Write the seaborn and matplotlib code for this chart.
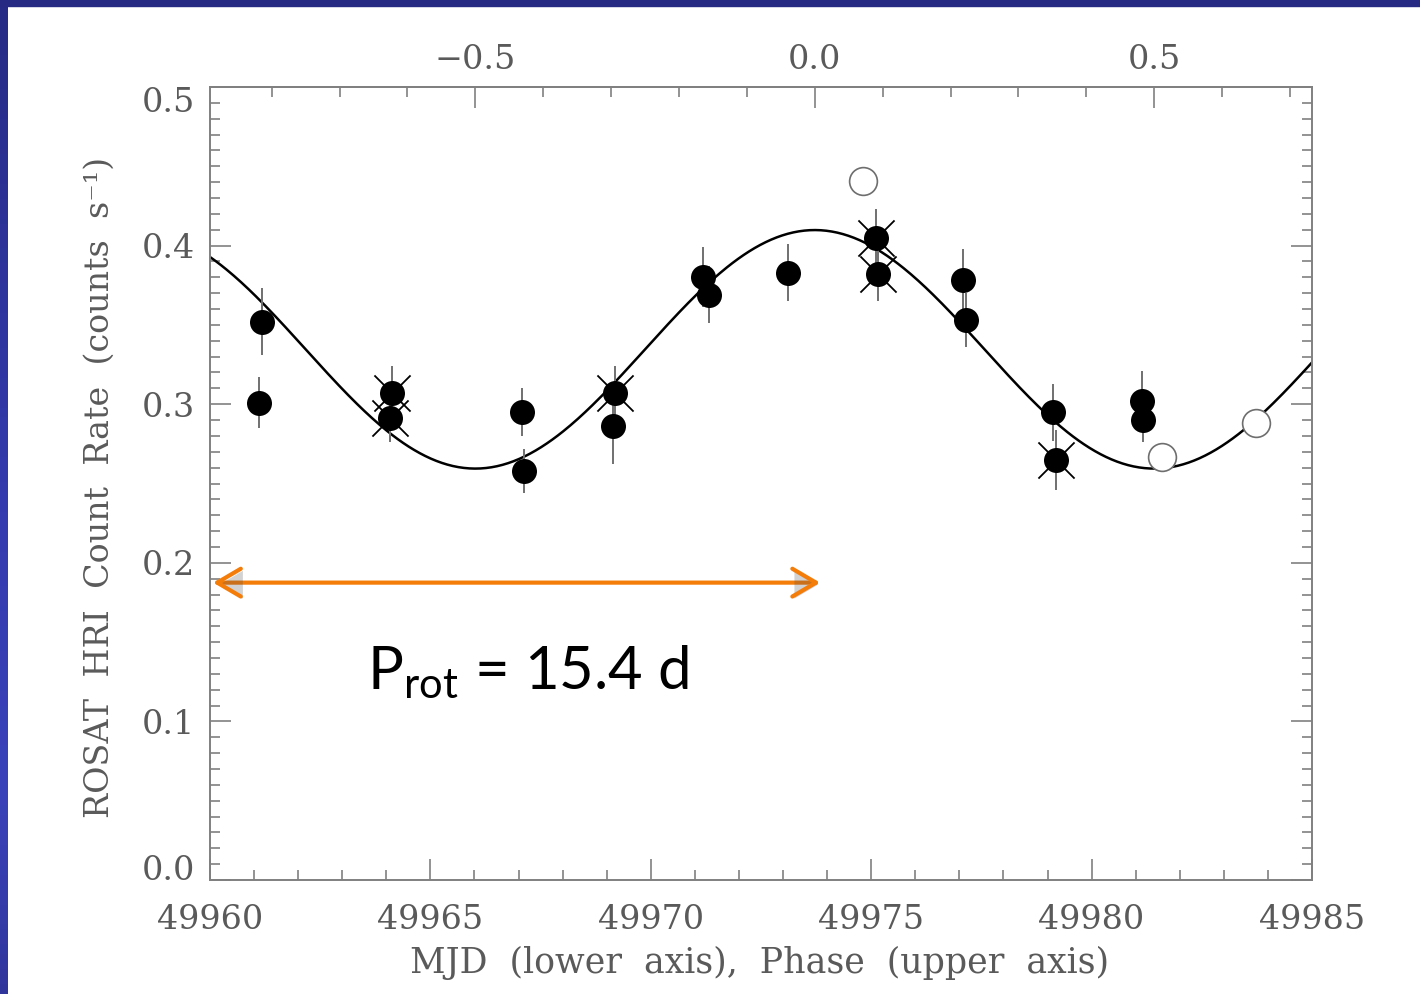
import numpy as np
import pandas as pd
import matplotlib
matplotlib.use("Agg")
import matplotlib.pyplot as plt
from matplotlib.patches import Rectangle
from matplotlib.ticker import MultipleLocator, FixedLocator
import matplotlib.transforms as mtrans
import matplotlib.patheffects as pe
import seaborn as sns

# ROSAT HRI light curve
mjd = [49961.18, 49961.12, 49964.12, 49964.08, 49967.07, 49967.12, 49969.19,
       49969.14, 49971.18, 49971.31, 49973.11, 49975.11, 49975.15, 49977.08,
       49977.15, 49979.13, 49979.19, 49981.14, 49981.17]
rate = [0.352, 0.301, 0.307, 0.291, 0.295, 0.258, 0.307, 0.286, 0.380, 0.369,
        0.383, 0.405, 0.382, 0.378, 0.353, 0.295, 0.265, 0.302, 0.290]
rate_err = [0.021, 0.016, 0.017, 0.015, 0.015, 0.014, 0.017, 0.024, 0.019, 0.018,
            0.018, 0.018, 0.017, 0.020, 0.017, 0.018, 0.019, 0.019, 0.014]
crossed = [False, False, True, True, False, False, True, False, False, False,
           False, True, True, False, False, False, True, False, False]

# points shown as open circles
mjd_open = [49974.81, 49981.59, 49983.74]
rate_open = [0.441, 0.267, 0.288]

# sinusoid fit
period = 15.4
t_zero = 49973.72
rate_mean = 0.3346
rate_amp = 0.0752

# axis ticks
mjd_ticks = [49960, 49965, 49970, 49975, 49980, 49985]
rate_ticks = [0.0, 0.1, 0.2, 0.3, 0.4, 0.5]
phase_ticks = [-0.5, 0.0, 0.5]
phase_minor = [-0.8, -0.7, -0.6, -0.4, -0.3, -0.2, -0.1, 0.1, 0.2, 0.3, 0.4, 0.6, 0.7]

df = pd.DataFrame({"mjd": mjd, "rate": rate, "err": rate_err, "crossed": crossed})
df_open = pd.DataFrame({"mjd": mjd_open, "rate": rate_open})
t = np.linspace(49960, 49985, 600)
df_fit = pd.DataFrame({"mjd": t,
                       "rate": rate_mean + rate_amp * np.cos(2 * np.pi * (t - t_zero) / period)})

sns.set_style("ticks")
plt.rcParams["font.family"] = ["DejaVu Serif"]
plt.rcParams["mathtext.fontset"] = "custom"
plt.rcParams["mathtext.rm"] = "Lato"

grey = "#808080"
txt = "#5a5a5a"

fig = plt.figure(figsize=(14.2, 9.94), dpi=100)
fig.patch.set_facecolor("white")

# blue slide border
bg = fig.add_axes([0, 0, 8 / 1420, 1])
grad = np.linspace(0, 1, 200)
cols = np.array([[0.15, 0.17, 0.52], [0.20, 0.23, 0.68], [0.23, 0.26, 0.73], [0.19, 0.21, 0.61]])
pos = np.array([0.0, 0.5, 0.8, 1.0])
img = np.stack([np.interp(grad, pos, cols[:, k]) for k in range(3)], axis=1)[:, None, :]
bg.imshow(img, aspect="auto", extent=[0, 1, 1, 0])
bg.axis("off")
fig.add_artist(Rectangle((0, 1 - 6 / 994), 1, 6 / 994, transform=fig.transFigure,
                         color="#262a82", zorder=5))

ax = fig.add_axes([210 / 1420, 114 / 994, 1102 / 1420, 793 / 994])

sns.lineplot(data=df_fit, x="mjd", y="rate", ax=ax, color="black", linewidth=1.8, zorder=2)
ax.errorbar(df["mjd"], df["rate"], yerr=df["err"], fmt="none", ecolor="#707070",
            elinewidth=1.4, zorder=3)
sns.scatterplot(data=df[df["crossed"]], x="mjd", y="rate", ax=ax, marker="x", s=26 ** 2,
                color="black", linewidth=1.3, zorder=4)
sns.scatterplot(data=df, x="mjd", y="rate", ax=ax, marker="o", s=18 ** 2,
                color="black", edgecolor="black", linewidth=0, zorder=5)
sns.scatterplot(data=df_open, x="mjd", y="rate", ax=ax, marker="o", s=20 ** 2,
                facecolor="white", edgecolor="#6e6e6e", linewidth=1.2, zorder=5)

ax.set_xlim(49960, 49985)
ax.set_ylim(0, 0.5)
ax.set_xlabel("")
ax.set_ylabel("")
ax.set_xticks(mjd_ticks, [str(v) for v in mjd_ticks])
ax.set_yticks(rate_ticks, [f"{v:.1f}" for v in rate_ticks])
ax.xaxis.set_minor_locator(MultipleLocator(1))
ax.yaxis.set_minor_locator(MultipleLocator(0.01))
ax.tick_params(which="both", direction="in", color=grey, labelcolor=txt,
               bottom=True, top=False, left=True, right=True, labelsize=24)
ax.tick_params(which="major", length=15, width=1.2)
ax.tick_params(which="minor", length=7, width=1.2)
ax.tick_params(axis="x", pad=17)
ax.tick_params(axis="y", pad=11)
for s in ax.spines.values():
    s.set_color(grey)
    s.set_linewidth(1.4)

# end labels sit inside the frame, like the original IDL plot
ylabels = ax.get_yticklabels()
ylabels[0].set_transform(ylabels[0].get_transform() +
                         mtrans.ScaledTranslation(0, 13 / 100, fig.dpi_scale_trans))
ylabels[-1].set_transform(ylabels[-1].get_transform() +
                          mtrans.ScaledTranslation(0, -12 / 100, fig.dpi_scale_trans))

sec = ax.secondary_xaxis("top", functions=(lambda m: (m - t_zero) / period,
                                          lambda p: p * period + t_zero))
sec.xaxis.set_major_locator(FixedLocator(phase_ticks))
sec.xaxis.set_minor_locator(FixedLocator(phase_minor))
sec.xaxis.set_major_formatter(plt.FuncFormatter(lambda v, p: f"{v:.1f}".replace("-", "\u2212")))
sec.tick_params(which="both", direction="in", color=grey, labelcolor=txt, labelsize=24, pad=8)
sec.tick_params(which="major", length=15, width=1.2)
sec.tick_params(which="minor", length=7, width=1.2)
sec.spines["top"].set_color(grey)
sec.spines["top"].set_linewidth(1.4)

fig.text(100 / 1420, 1 - 487 / 994, "ROSAT  HRI  Count  Rate  (counts  s\u207b\u00b9)", rotation=90,
         ha="center", va="center", fontsize=24, color=txt)
fig.text(760 / 1420, 1 - 963 / 994, "MJD  (lower  axis),  Phase  (upper  axis)",
         ha="center", va="center", fontsize=25, color=txt)

ax.annotate("", xy=(49960.07, 0.1875), xytext=(49973.84, 0.1875),
            arrowprops=dict(arrowstyle="<->,head_length=0.85,head_width=0.5", color="#f47d0a",
                            lw=3.0, shrinkA=0, shrinkB=0, mutation_scale=20,
                            path_effects=[pe.SimplePatchShadow(offset=(1.5, -1.5), alpha=0.25),
                                          pe.Normal()]),
            zorder=6)
ax.text(49963.56, 0.1206, "P$_{\\mathrm{rot}}$ = 15.4 d", family="Lato", fontsize=43,
        color="black", ha="left", va="baseline", zorder=6)

fig.savefig("out.png", dpi=100)
